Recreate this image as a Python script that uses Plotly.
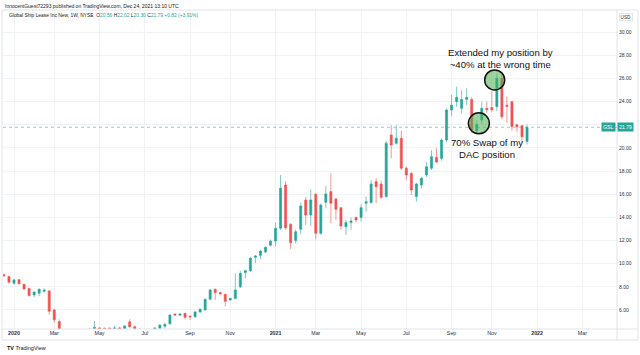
import plotly.graph_objects as go
import pandas as pd

# ---------------- data (weekly GSL candles) ----------------
first_week = "2019-12-23"

opens = [9.05, 8.90, 8.30, 8.62, 8.22, 7.85, 7.30, 7.45, 7.62, 7.65,
         6.00, 5.00, 4.10, 3.50, 3.80, 3.60, 3.90, 4.00, 4.20, 4.45,
         4.42, 4.42, 4.35, 4.45, 4.33, 4.98, 4.55, 4.35, 4.20, 4.25,
         4.30, 4.42, 4.60, 4.80, 5.65, 5.55, 5.71, 5.48, 5.42, 5.83,
         6.00, 6.92, 7.80, 7.50, 7.35, 6.87, 7.00, 8.00, 9.23, 9.40,
         10.55, 10.72, 11.02, 11.60, 11.96, 13.06, 16.80, 13.40, 12.00, 12.97,
         15.50, 14.21, 16.00, 12.63, 15.30, 16.23, 15.60, 14.84, 13.20, 13.55,
         14.00, 14.00, 15.22, 15.28, 17.09, 16.89, 15.80, 21.12, 20.41, 20.84,
         18.25, 17.81, 15.80, 16.80, 17.67, 18.25, 19.20, 19.10, 20.69, 23.28,
         24.00, 23.43, 24.20, 24.20, 21.50, 22.42, 23.43, 23.50, 23.57, 26.02,
         23.70, 24.00, 22.00, 21.93, 20.56]
highs = [9.15, 8.95, 8.70, 8.68, 8.25, 7.95, 7.60, 7.85, 7.85, 7.70,
         6.10, 5.20, 4.30, 4.00, 4.10, 4.00, 4.20, 4.45, 5.05, 4.50,
         4.48, 4.50, 4.65, 4.55, 4.70, 5.20, 4.65, 4.35, 4.33, 4.35,
         4.50, 4.75, 4.90, 5.60, 5.70, 5.70, 5.75, 5.50, 5.90, 6.15,
         7.00, 7.80, 7.85, 7.55, 7.40, 7.05, 9.17, 9.40, 9.50, 10.60,
         10.75, 11.20, 11.50, 12.10, 13.55, 17.67, 17.15, 13.50, 12.97, 15.28,
         15.74, 16.43, 16.10, 15.20, 16.72, 17.81, 15.70, 14.90, 13.78, 14.00,
         14.05, 15.13, 15.80, 17.23, 17.38, 17.17, 20.60, 21.98, 21.98, 21.50,
         18.40, 17.90, 17.00, 17.50, 18.80, 19.80, 19.98, 20.80, 23.40, 24.58,
         25.30, 25.00, 25.15, 24.38, 22.40, 24.00, 24.00, 24.90, 26.45, 26.40,
         24.45, 24.10, 22.10, 22.00, 22.02]
lows = [8.90, 8.30, 8.20, 8.20, 7.75, 7.15, 7.10, 7.20, 7.50, 5.60,
        4.90, 3.90, 3.20, 3.20, 3.50, 3.40, 3.70, 3.90, 4.10, 4.20,
        4.20, 4.20, 4.25, 4.20, 4.25, 4.50, 4.20, 4.00, 4.00, 4.10,
        4.20, 4.38, 4.40, 4.75, 5.50, 5.50, 5.20, 5.15, 5.30, 5.75,
        5.95, 6.90, 6.86, 7.30, 6.30, 6.80, 6.95, 7.90, 8.74, 9.30,
        10.05, 10.40, 10.90, 11.50, 11.50, 12.90, 12.90, 11.27, 11.76, 12.56,
        13.35, 13.26, 12.11, 12.50, 14.78, 13.49, 13.78, 12.92, 12.48, 12.92,
        13.60, 13.64, 14.50, 15.20, 15.22, 15.60, 15.70, 19.10, 20.30, 18.10,
        17.24, 15.94, 15.36, 16.50, 17.50, 18.10, 18.70, 18.90, 20.50, 22.80,
        23.57, 23.00, 23.70, 21.30, 21.20, 22.10, 23.00, 23.10, 23.20, 22.50,
        22.15, 21.50, 21.40, 20.40, 20.30]
closes = [8.95, 8.40, 8.60, 8.27, 7.82, 7.25, 7.55, 7.80, 7.72, 5.90,
          5.15, 4.10, 3.50, 3.80, 3.60, 3.90, 4.00, 4.20, 4.50, 4.30,
          4.35, 4.30, 4.45, 4.30, 4.62, 4.55, 4.35, 4.20, 4.25, 4.30,
          4.45, 4.70, 4.75, 5.57, 5.57, 5.65, 5.37, 5.42, 5.83, 6.06,
          6.92, 7.73, 7.50, 7.40, 6.75, 7.00, 7.73, 9.17, 9.40, 10.47,
          10.67, 11.10, 11.42, 11.95, 13.06, 16.52, 13.10, 11.82, 12.77, 14.99,
          14.20, 15.51, 12.63, 15.07, 16.03, 15.22, 14.70, 13.26, 13.55, 13.70,
          13.78, 14.84, 15.36, 16.89, 16.66, 15.74, 20.41, 20.26, 20.84, 18.25,
          17.67, 16.37, 16.89, 17.38, 18.38, 19.25, 18.80, 20.69, 23.28, 23.70,
          24.38, 24.20, 24.38, 21.55, 22.05, 23.43, 23.30, 23.30, 26.02, 22.70,
          23.60, 21.85, 21.84, 20.97, 21.79]

weeks = pd.date_range(first_week, periods=len(opens), freq="7D")

tick_dates = ["2020-01-06", "2020-03-02", "2020-05-04", "2020-07-06", "2020-09-07",
              "2020-11-02", "2021-01-04", "2021-03-01", "2021-05-03", "2021-07-05",
              "2021-09-06", "2021-11-01", "2022-01-03", "2022-03-07"]
tick_labels = ["<b>2020</b>", "Mar", "May", "Jul", "Sep", "Nov", "<b>2021</b>", "Mar",
               "May", "Jul", "Sep", "Nov", "<b>2022</b>", "Mar"]
price_ticks = [6, 8, 10, 12, 14, 16, 18, 20, 22, 24, 26, 28, 30]
price_labels = [f"{v:.2f}" for v in price_ticks]

symbol = "GSL"
title_line = "Global Ship Lease Inc New, 1W, NYSE"
publisher_line = "InnocentGuest72293 published on TradingView.com, Dec 24, 2021 13:10 UTC"
note_top = "Extended my position by<br>~40% at the wrong time"
note_bottom = "70% Swap of my<br>DAC position"

UP = "#26a69a"
DOWN = "#ef5350"
FONT = "Liberation Sans, Arial, sans-serif"

# ---------------- figure ----------------
fig = go.Figure()
fig.add_trace(go.Candlestick(
    x=weeks, open=opens, high=highs, low=lows, close=closes,
    increasing=dict(line=dict(color=UP, width=0.6), fillcolor=UP),
    decreasing=dict(line=dict(color=DOWN, width=0.6), fillcolor=DOWN),
    whiskerwidth=0, showlegend=False, hoverinfo="skip",
))

W, H = 640, 355
L, R, T, B = 3, 23, 11, 26
pw, ph = W - L - R, H - T - B


def px_x(p):
    return (p - L) / pw


def px_y(p):
    return (H - B - p) / ph


last_o, last_h, last_l, last_c = opens[-1], highs[-1], lows[-1], closes[-1]
chg = last_c - closes[-2]
pct = chg / closes[-2] * 100

fig.update_layout(
    width=W, height=H,
    margin=dict(l=L, r=R, t=T, b=B, autoexpand=False),
    paper_bgcolor="white", plot_bgcolor="white",
    boxgap=0.4,
    font=dict(family=FONT, size=5.5, color="#131722"),
    xaxis=dict(
        type="date", range=["2019-12-21 16:30", "2022-04-24 05:00"],
        rangeslider=dict(visible=False), automargin=False,
        tickmode="array", tickvals=tick_dates, ticktext=tick_labels,
        showgrid=True, gridcolor="#f0f2f6", gridwidth=1,
        zeroline=False, showline=False, ticks="",
        tickfont=dict(size=5.3, color="#2a2e39"),
    ),
    yaxis=dict(
        side="right", range=[4.356, 31.84], automargin=False,
        tickmode="array", tickvals=price_ticks, ticktext=price_labels,
        showgrid=True, gridcolor="#f0f2f6", gridwidth=1,
        zeroline=False, showline=False, ticks="", ticklabelstandoff=1,
        tickfont=dict(size=5.0, color="#2a2e39"),
    ),
)

shapes = [
    # pane frame
    dict(type="rect", xref="paper", yref="paper", x0=px_x(2), x1=px_x(638),
         y0=px_y(340), y1=px_y(10), line=dict(color="#e0e3eb", width=1), layer="below"),
    # price-axis separator
    dict(type="line", xref="paper", yref="paper", x0=1, x1=1,
         y0=px_y(340), y1=px_y(10), line=dict(color="#e0e3eb", width=1)),
    # time-axis separator
    dict(type="line", xref="paper", yref="paper", x0=px_x(2), x1=px_x(638),
         y0=0, y1=0, line=dict(color="#e0e3eb", width=1)),
    # last price line
    dict(type="line", xref="paper", yref="y", x0=0, x1=1, y0=last_c, y1=last_c,
         line=dict(color="rgba(38,166,154,0.5)", width=1, dash="dot")),
    # highlight circles
    dict(type="circle", xref="x", yref="y", xsizemode="pixel", ysizemode="pixel",
         xanchor="2021-11-05", yanchor=25.88, x0=-10, x1=10, y0=-10, y1=10,
         fillcolor="rgba(76,175,80,0.55)", line=dict(color="#111", width=1.5)),
    dict(type="circle", xref="x", yref="y", xsizemode="pixel", ysizemode="pixel",
         xanchor="2021-10-14", yanchor=22.13, x0=-10.5, x1=10.5, y0=-10.5, y1=10.5,
         fillcolor="rgba(76,175,80,0.55)", line=dict(color="#111", width=1.5)),
]
fig.update_layout(shapes=shapes)

tc = UP if chg >= 0 else DOWN
legend_txt = (f"{title_line}  O<span style='color:{tc}'>{last_o:.2f}</span> "
              f"H<span style='color:{tc}'>{last_h:.2f}</span> "
              f"L<span style='color:{tc}'>{last_l:.2f}</span> "
              f"C<span style='color:{tc}'>{last_c:.2f}</span> "
              f"<span style='color:{tc}'>{chg:+.2f} ({pct:+.2f}%)</span>")

annotations = [
    dict(text=publisher_line, xref="paper", yref="paper", x=px_x(3), y=px_y(6),
         xanchor="left", yanchor="middle", showarrow=False,
         font=dict(size=5.0, color="#131722")),
    dict(text=legend_txt, xref="paper", yref="paper", x=px_x(7), y=px_y(15.5),
         xanchor="left", yanchor="middle", showarrow=False,
         font=dict(size=4.9, color="#131722")),
    dict(text="USD", xref="paper", yref="paper", x=px_x(626.5), y=px_y(16.5),
         xanchor="center", yanchor="middle", showarrow=False,
         bgcolor="white", bordercolor="#d1d4dc", borderwidth=0.6, borderpad=1,
         font=dict(size=4.6, color="#2a2e39")),
    dict(text=f"{last_c:.2f}", xref="paper", yref="y", x=px_x(617), y=last_c,
         xanchor="left", yanchor="middle", showarrow=False,
         bgcolor=UP, borderpad=1.2, font=dict(size=5.0, color="white")),
    dict(text=symbol, xref="paper", yref="y", x=px_x(615.5), y=last_c,
         xanchor="right", yanchor="middle", showarrow=False,
         bgcolor=UP, borderpad=1.2, font=dict(size=5.0, color="white")),
    dict(text=note_top, xref="paper", yref="paper", x=px_x(500), y=px_y(58.5),
         xanchor="center", yanchor="middle", showarrow=False,
         font=dict(size=9.6, color="#111")),
    dict(text=note_bottom, xref="paper", yref="paper", x=px_x(487), y=px_y(148),
         xanchor="center", yanchor="middle", showarrow=False,
         font=dict(size=9.6, color="#111")),
    dict(text="<b>TV</b> TradingView", xref="paper", yref="paper", x=px_x(5), y=px_y(347.5),
         xanchor="left", yanchor="middle", showarrow=False,
         font=dict(size=5.5, color="#131722")),
]
fig.update_layout(annotations=annotations)

fig.write_html(
    "out.html",
    config={"displayModeBar": False, "staticPlot": True},
    post_script="document.body.style.margin='0';document.body.style.padding='0';"
                "document.body.style.overflow='hidden';",
)
